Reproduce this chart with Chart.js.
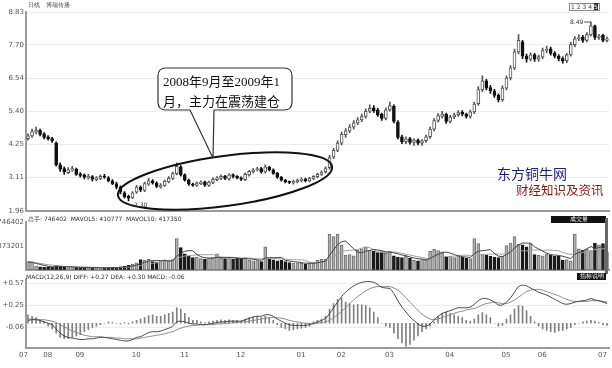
<!DOCTYPE html>
<html><head><meta charset="utf-8">
<script src="https://cdn.jsdelivr.net/npm/chart.js@4.4.0/dist/chart.umd.min.js"></script>
<style>
body{margin:0;width:612px;height:368px;overflow:hidden;background:#fff;position:relative;font-family:"DejaVu Sans",sans-serif;}
canvas{position:absolute;left:0;}
.t{position:absolute;white-space:nowrap;line-height:1;}
svg{position:absolute;left:0;top:0;}
</style></head><body>
<canvas id="cp" width="612" height="217" style="top:0px"></canvas>
<canvas id="cv" width="612" height="60" style="top:216px"></canvas>
<canvas id="cm" width="612" height="95" style="top:273px"></canvas>
<svg width="612" height="368">
  <ellipse cx="225" cy="181" rx="108" ry="25" transform="rotate(-7.7 225 181)" fill="none" stroke="#111" stroke-width="2"/>
  <path d="M166,68 H284 Q292,68 292,76 V102 Q292,110 284,110 H214 L213,158 L190,110 H166 Q158,110 158,102 V76 Q158,68 166,68 Z" fill="#fff" stroke="#333" stroke-width="1.2"/>
  <line x1="584" y1="22" x2="591" y2="22" stroke="#555" stroke-width="1"/>
  <line x1="129" y1="205" x2="133" y2="205" stroke="#555" stroke-width="1"/>
</svg>
<div class="t" style="left:163px;top:72px;font-size:13px;line-height:20px;font-family:'Liberation Serif','Noto Sans CJK SC';color:#111;">2008年9月至2009年1<br>月，主力在震荡建仓</div>
<div class="t" style="left:28px;top:2px;font-size:6px;color:#444;">日线&nbsp;&nbsp;&nbsp;博瑞传播</div>
<div class="t" style="left:569px;top:3px;font-size:6px;color:#444;border:1px solid #888;padding:0 1px;">1 2 3 4 <span style="background:#222;color:#fff;">5</span></div>
<div class="t" style="left:570px;top:19px;font-size:6px;color:#333;">8.49</div>
<div class="t" style="left:134px;top:202px;font-size:6px;color:#333;">2.30</div>
<div class="t" style="left:497px;top:166px;font-size:14px;color:#1c1c80;font-family:'Noto Sans CJK SC';">东方铜牛网</div>
<div class="t" style="left:516px;top:184px;font-size:12.5px;color:#8a1515;font-family:'Noto Sans CJK SC';">财经知识及资讯</div>
<div class="t" style="left:28px;top:216px;font-size:6px;color:#333;">总手: 746402&nbsp; MAVOL5: 410777&nbsp; MAVOL10: 417350</div>
<div class="t" style="left:551px;top:216px;width:55px;height:7px;background:#111;color:#fff;font-size:6px;text-align:center;">成交量</div>
<div style="position:absolute;left:605px;top:218px;width:3px;height:56px;background:#666;"></div>
<div class="t" style="left:26px;top:274px;font-size:6px;color:#333;">MACD(12,26,9) DIFF: +0.27 DEA: +0.30 MACD: -0.06</div>
<div class="t" style="left:577px;top:273px;width:29px;height:7px;background:#111;color:#fff;font-size:6px;text-align:center;">指标说明</div>
<script>
// ---- data ----
const opens=[4.45,4.55,4.68,4.74,4.62,4.52,4.46,4.30,3.55,3.42,
3.28,3.36,3.40,3.24,3.20,3.10,3.14,3.04,3.08,3.16,
3.10,3.00,2.90,2.78,2.58,2.46,2.42,2.60,2.78,2.66,
2.88,3.00,2.92,2.78,2.84,2.96,3.08,3.24,3.48,3.20,
3.02,2.88,2.84,2.90,2.96,2.84,2.94,3.04,3.08,3.16,
3.06,3.20,3.16,3.10,3.04,3.20,3.30,3.38,3.42,3.30,
3.46,3.38,3.26,3.12,3.02,2.96,2.92,2.96,3.00,3.06,
3.00,3.08,3.14,3.22,3.30,3.45,3.82,4.05,4.30,4.58,
4.72,4.85,5.00,5.10,5.22,5.40,5.52,5.45,5.30,5.15,
5.45,5.58,5.02,4.52,4.35,4.46,4.32,4.40,4.30,4.38,
4.52,4.78,5.08,5.22,5.30,5.05,5.20,5.28,5.36,5.30,
5.22,5.38,5.66,6.15,6.45,6.22,6.10,5.95,5.80,6.20,
6.55,6.90,7.45,7.80,7.30,7.20,7.36,7.20,7.28,7.50,
7.56,7.40,7.30,7.22,7.15,7.35,7.70,7.90,7.96,7.85,
8.05,8.35,7.95,8.02,7.85];
const closes=[4.55,4.70,4.75,4.60,4.50,4.45,4.38,3.55,3.40,3.30,
3.38,3.42,3.22,3.18,3.12,3.15,3.05,3.10,3.15,3.12,
3.00,2.90,2.78,2.60,2.45,2.40,2.58,2.78,2.68,2.90,
3.00,2.92,2.80,2.85,2.98,3.08,3.25,3.50,3.20,3.02,
2.88,2.85,2.92,2.95,2.85,2.95,3.05,3.10,3.15,3.08,
3.20,3.15,3.10,3.05,3.22,3.32,3.38,3.40,3.30,3.48,
3.38,3.25,3.12,3.02,2.96,2.94,2.98,3.02,3.06,3.00,
3.08,3.15,3.22,3.30,3.42,3.80,4.05,4.30,4.60,4.72,
4.85,5.00,5.10,5.22,5.40,5.50,5.42,5.28,5.15,5.45,
5.60,5.05,4.50,4.35,4.45,4.32,4.40,4.30,4.38,4.52,
4.78,5.08,5.25,5.30,5.05,5.20,5.28,5.35,5.30,5.22,
5.38,5.65,6.15,6.45,6.20,6.10,5.95,5.80,6.20,6.55,
6.90,7.45,7.85,7.30,7.20,7.35,7.20,7.28,7.50,7.55,
7.40,7.30,7.22,7.15,7.35,7.70,7.90,7.95,7.85,8.05,
8.35,7.95,8.00,7.85,7.90];
const highs=[4.62,4.78,4.85,4.78,4.66,4.56,4.50,4.34,3.62,3.48,
3.45,3.50,3.44,3.28,3.24,3.22,3.18,3.14,3.20,3.22,
3.14,3.04,2.95,2.82,2.62,2.50,2.62,2.84,2.82,2.95,
3.08,3.04,2.96,2.90,3.02,3.14,3.30,3.62,3.52,3.24,
3.06,2.92,2.96,3.00,2.99,2.99,3.10,3.14,3.20,3.19,
3.24,3.24,3.18,3.13,3.26,3.36,3.42,3.46,3.46,3.55,
3.50,3.41,3.29,3.15,3.05,2.99,3.02,3.06,3.10,3.09,
3.12,3.18,3.26,3.34,3.48,3.88,4.12,4.38,4.68,4.80,
4.94,5.08,5.18,5.30,5.48,5.62,5.60,5.50,5.34,5.52,
5.72,5.62,5.08,4.58,4.52,4.50,4.46,4.45,4.42,4.58,
4.85,5.15,5.32,5.40,5.34,5.26,5.34,5.42,5.42,5.34,
5.44,5.72,6.25,6.62,6.50,6.30,6.16,6.00,6.28,6.62,
6.98,7.55,8.05,7.85,7.38,7.42,7.40,7.34,7.58,7.65,
7.62,7.46,7.36,7.28,7.40,7.78,7.98,8.04,8.02,8.12,
8.49,8.38,8.06,8.06,7.96];
const lows=[4.40,4.50,4.62,4.55,4.44,4.40,4.32,3.50,3.32,3.22,
3.24,3.32,3.18,3.12,3.06,3.05,2.98,3.00,3.04,3.08,
2.96,2.86,2.72,2.54,2.40,2.30,2.38,2.56,2.62,2.62,
2.84,2.88,2.76,2.74,2.80,2.92,3.04,3.20,3.16,2.98,
2.84,2.80,2.80,2.86,2.80,2.80,2.90,3.00,3.04,3.04,
3.02,3.10,3.06,3.00,3.00,3.16,3.26,3.34,3.26,3.26,
3.34,3.22,3.08,2.98,2.92,2.90,2.88,2.92,2.96,2.96,
2.96,3.04,3.10,3.18,3.26,3.40,3.76,4.00,4.24,4.50,
4.66,4.78,4.94,5.04,5.16,5.34,5.36,5.22,5.08,5.10,
5.40,5.00,4.44,4.28,4.28,4.26,4.22,4.24,4.22,4.32,
4.46,4.72,5.02,5.16,4.98,5.00,5.14,5.22,5.24,5.16,
5.16,5.32,5.60,6.08,6.14,6.02,5.88,5.72,5.74,6.14,
6.48,6.84,7.38,7.22,7.10,7.14,7.12,7.12,7.22,7.42,
7.34,7.24,7.14,7.06,7.08,7.30,7.62,7.84,7.78,7.80,
8.00,7.88,7.88,7.80,7.80];
// volume in thousands of lots
const volK=[130,120,60,45,40,42,38,75,55,40,
35,38,40,36,34,30,32,35,30,32,
38,40,35,45,55,70,90,110,160,150,
165,130,120,140,155,145,160,490,350,250,
210,190,200,175,170,185,190,250,180,175,
185,170,190,165,180,150,140,145,130,360,
170,155,140,150,130,115,105,110,100,95,
105,100,150,165,170,560,520,560,390,230,
240,220,310,330,360,300,290,270,280,260,
290,220,200,190,210,180,150,140,160,150,
290,320,300,280,200,210,190,220,200,180,
175,490,410,240,230,210,200,190,210,380,
420,520,400,390,360,410,240,230,220,250,
230,210,220,150,160,140,560,330,310,320,
300,420,390,410,280];
const mavol5K=[120,118,100,85,70,55,45,48,50,50,
48,48,42,40,37,36,34,33,32,32,
33,35,35,38,43,49,59,74,97,116,
135,143,145,143,144,138,144,218,260,291,
300,298,240,205,189,184,184,194,195,196,
196,192,180,177,178,171,165,156,149,185,
189,190,191,195,149,138,128,122,112,105,
103,102,110,123,138,229,313,395,440,452,
388,330,278,266,292,304,318,310,300,280,
278,264,250,232,222,200,186,174,168,156,
178,212,244,268,278,262,240,220,204,200,
193,253,291,299,309,316,258,214,206,238,
280,344,386,422,418,416,360,326,292,262,
236,232,226,212,194,176,246,269,292,332,
364,336,348,368,360];
const mavol10K=[125,122,110,100,90,80,72,66,60,55,
47,44,44,42,42,41,40,38,35,34,
34,34,34,35,37,41,47,54,67,79,
92,101,110,119,129,138,145,180,199,216,
222,228,236,238,235,237,239,215,198,190,
188,186,187,186,187,184,179,175,169,183,
181,179,173,171,166,161,159,157,154,150,
120,115,116,118,125,170,211,256,285,298,
306,311,320,338,357,346,313,284,273,276,
281,281,273,259,244,232,218,205,193,182,
178,190,200,209,208,211,215,223,227,230,
218,235,246,242,244,245,249,247,246,256,
281,285,284,299,295,317,309,312,305,308,
308,304,298,270,255,238,253,263,272,285,
291,319,311,332,327];
const dif=[0.04,0.05,0.05,0.04,0.02,0.00,-0.02,-0.08,-0.14,-0.18,
-0.20,-0.21,-0.22,-0.23,-0.23,-0.22,-0.22,-0.21,-0.20,-0.20,
-0.21,-0.22,-0.23,-0.24,-0.25,-0.25,-0.23,-0.20,-0.19,-0.16,
-0.13,-0.12,-0.12,-0.11,-0.09,-0.07,-0.04,0.02,0.03,0.02,
0.00,-0.01,-0.01,-0.02,-0.02,-0.01,0.00,0.01,0.02,0.02,
0.03,0.03,0.03,0.03,0.05,0.07,0.09,0.10,0.10,0.12,
0.12,0.10,0.06,0.03,0.00,-0.02,-0.03,-0.03,-0.03,-0.03,
-0.02,0.00,0.02,0.04,0.07,0.14,0.22,0.30,0.38,0.44,
0.49,0.53,0.56,0.58,0.59,0.59,0.58,0.55,0.51,0.50,
0.49,0.42,0.32,0.23,0.16,0.09,0.04,-0.01,-0.04,-0.04,
-0.01,0.05,0.10,0.14,0.16,0.18,0.20,0.22,0.22,0.22,
0.23,0.27,0.32,0.35,0.35,0.33,0.30,0.26,0.26,0.30,
0.36,0.44,0.52,0.54,0.53,0.50,0.47,0.44,0.42,0.40,
0.37,0.34,0.31,0.28,0.27,0.28,0.30,0.31,0.32,0.33,
0.35,0.33,0.32,0.30,0.28];
const dea=[0.06,0.06,0.06,0.05,0.05,0.04,0.03,0.01,-0.02,-0.05,
-0.08,-0.11,-0.13,-0.15,-0.17,-0.18,-0.19,-0.19,-0.19,-0.20,
-0.20,-0.20,-0.21,-0.21,-0.22,-0.22,-0.22,-0.22,-0.21,-0.20,
-0.19,-0.18,-0.17,-0.16,-0.15,-0.13,-0.12,-0.09,-0.07,-0.05,
-0.04,-0.03,-0.03,-0.02,-0.02,-0.02,-0.02,-0.01,-0.01,0.00,
0.00,0.01,0.01,0.02,0.02,0.03,0.04,0.05,0.06,0.07,
0.08,0.08,0.08,0.07,0.06,0.04,0.03,0.02,0.01,0.00,
0.00,-0.01,0.00,0.01,0.02,0.04,0.08,0.12,0.17,0.22,
0.28,0.33,0.38,0.42,0.46,0.49,0.51,0.52,0.52,0.52,
0.52,0.50,0.47,0.42,0.36,0.30,0.24,0.18,0.13,0.09,
0.06,0.05,0.06,0.08,0.10,0.12,0.14,0.16,0.17,0.19,
0.20,0.21,0.23,0.26,0.28,0.29,0.30,0.29,0.28,0.28,
0.30,0.33,0.37,0.41,0.45,0.47,0.48,0.48,0.47,0.45,
0.43,0.41,0.39,0.36,0.34,0.32,0.31,0.31,0.31,0.31,
0.32,0.32,0.32,0.31,0.30];
const macdHist=[0.12,0.10,0.08,0.05,0.02,-0.04,-0.08,-0.14,-0.20,-0.22,
-0.22,-0.20,-0.18,-0.16,-0.12,-0.09,-0.06,-0.04,-0.02,0.00,
0.02,0.01,0.00,-0.01,0.01,-0.01,0.02,0.04,0.06,0.08,
0.11,0.12,0.10,0.10,0.12,0.14,0.16,0.22,0.20,0.14,
0.08,0.04,0.04,0.02,0.01,0.02,0.03,0.04,0.05,0.04,
0.05,0.04,0.04,0.03,0.06,0.08,0.09,0.10,0.08,0.10,
0.08,0.04,-0.02,-0.06,-0.08,-0.10,-0.09,-0.08,-0.07,-0.06,
-0.04,0.02,0.04,0.06,0.10,0.20,0.28,0.34,0.36,0.30,
0.28,0.26,0.27,0.26,0.25,0.22,0.16,0.08,0.00,-0.04,
-0.06,-0.14,-0.22,-0.28,-0.33,-0.30,-0.24,-0.18,-0.12,-0.08,
-0.04,0.02,0.10,0.14,0.16,0.14,0.12,0.10,0.08,0.04,
0.03,0.06,0.12,0.15,0.12,0.08,0.00,-0.04,-0.03,0.06,
0.12,0.20,0.25,0.24,0.18,0.10,0.02,-0.04,-0.08,-0.10,
-0.12,-0.13,-0.11,-0.10,-0.08,-0.06,-0.02,0.00,0.02,0.03,
0.04,0.03,0.01,-0.02,-0.03];
const priceTicks=[1.96,3.11,4.25,5.40,6.54,7.70,8.83];
const volTicksK=[373.201,746.402];
const macdTicks=[-0.06,0.25,0.57];
const monthTickIndex=[0,6,14,28,40,54,69,79,91,106,120,129,144];
const monthTickLabels=['07','08','09','10','11','12','01','02','03','04','05','06','07'];

// ---- build ----
const cats=closes.map((_,i)=>String(i));
const isUp=closes.map((c,i)=>c>=opens[i]);
const bodies=opens.map((o,i)=>[Math.min(o,closes[i]),Math.max(o,closes[i])]);
const wicks=lows.map((l,i)=>[l,highs[i]]);

const tickFont={size:7,family:'DejaVu Sans'};
function yAxis(min,max,ticks,fmt,grid){
  return {min:min,max:max,position:'left',
    afterBuildTicks:s=>{s.ticks=ticks.map(v=>({value:v}));},
    afterFit:s=>{s.width=26;},
    ticks:{font:tickFont,color:'#555',padding:2,callback:fmt},
    grid:{display:grid,color:'#ececec',drawTicks:false},
    border:{display:true,color:'#9a9a9a',width:2}};
}
function xHidden(){
  return {type:'category',offset:true,ticks:{display:false},
    grid:{display:false,drawTicks:false},border:{display:true,color:'#9a9a9a',width:2}};
}
Chart.defaults.animation=false;
const base={responsive:false,devicePixelRatio:1,animation:false,
  plugins:{legend:{display:false},tooltip:{enabled:false}}};

new Chart(document.getElementById('cp'),{
  type:'bar',
  data:{labels:cats,datasets:[
    {data:bodies,order:0,grouped:false,barThickness:3,borderSkipped:false,minBarLength:1,
      backgroundColor:isUp.map(u=>u?'#ffffff':'#111111'),
      borderColor:isUp.map(u=>u?'#555555':'#111111'),borderWidth:1},
    {data:wicks,order:1,grouped:false,barThickness:1,
      backgroundColor:isUp.map(u=>u?'#555555':'#111111'),borderWidth:0}
  ]},
  options:Object.assign({},base,{layout:{padding:{top:12,right:3,bottom:1,left:0}},
    scales:{x:xHidden(),y:yAxis(1.96,8.83,priceTicks,v=>v.toFixed(2),true)}})
});

new Chart(document.getElementById('cv'),{
  type:'bar',
  data:{labels:cats,datasets:[
    {type:'line',data:mavol5K,order:0,borderColor:'#444',borderWidth:1,pointRadius:0,tension:0},
    {type:'line',data:mavol10K,order:1,borderColor:'#a0a0a0',borderWidth:1,pointRadius:0,tension:0},
    {data:volK,order:2,grouped:false,barThickness:3,borderSkipped:false,
      backgroundColor:isUp.map(u=>u?'#b0b0b0':'#1a1a1a'),
      borderColor:isUp.map(u=>u?'#707070':'#1a1a1a'),borderWidth:1}
  ]},
  options:Object.assign({},base,{layout:{padding:{top:5,right:3,bottom:1,left:0}},
    scales:{x:xHidden(),y:yAxis(0,746.402,volTicksK,v=>String(Math.round(v*1000)),false)}})
});

new Chart(document.getElementById('cm'),{
  type:'bar',
  data:{labels:cats,datasets:[
    {type:'line',data:dif,order:0,borderColor:'#444',borderWidth:1,pointRadius:0,tension:0.3},
    {type:'line',data:dea,order:1,borderColor:'#888',borderWidth:1,pointRadius:0,tension:0.3},
    {data:macdHist,order:2,grouped:false,barThickness:1,backgroundColor:'#808080',borderWidth:0}
  ]},
  options:Object.assign({},base,{layout:{padding:{top:1,right:3,bottom:6,left:0}},
    scales:{
      x:{type:'category',offset:true,
        ticks:{autoSkip:false,maxRotation:0,minRotation:0,align:'end',font:tickFont,color:'#555',padding:3,
          callback:(v,i)=>{const k=monthTickIndex.indexOf(i);return k>=0?monthTickLabels[k]:'';}},
        grid:{display:false,drawTicks:false},border:{display:true,color:'#9a9a9a',width:2}},
      y:yAxis(-0.345,0.625,macdTicks,v=>(v>=0?'+':'')+v.toFixed(2),true)}})
});
</script>
</body></html>
